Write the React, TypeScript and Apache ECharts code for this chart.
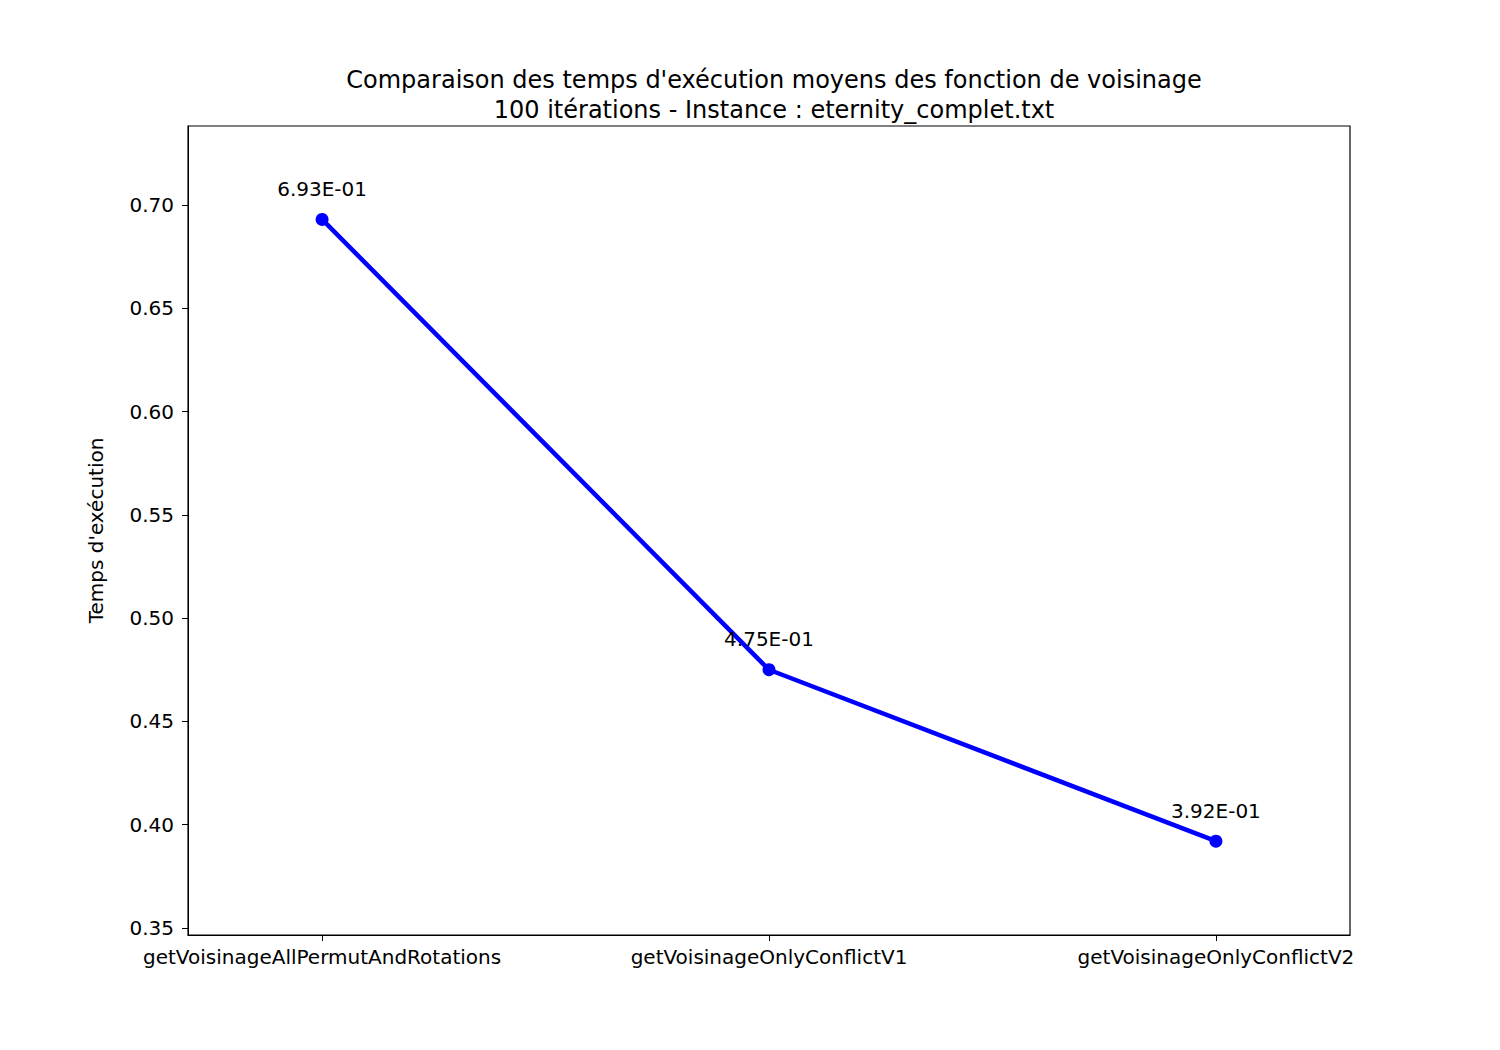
import React, { useEffect, useRef } from "react";
import * as echarts from "echarts";

const categories = ["getVoisinageAllPermutAndRotations", "getVoisinageOnlyConflictV1", "getVoisinageOnlyConflictV2"];
const values = [0.693, 0.475, 0.392];
const yTicks = [0.35, 0.4, 0.45, 0.5, 0.55, 0.6, 0.65, 0.7];
const titleLines = ["Comparaison des temps d'exécution moyens des fonction de voisinage", "100 itérations - Instance : eternity_complet.txt"];

export default function App() {
  const ref = useRef<HTMLDivElement>(null);
  useEffect(() => {
    const chart = echarts.init(ref.current!, undefined, { renderer: "svg" });
    const font = "DejaVu Sans";
    chart.setOption({
      animation: false,
      backgroundColor: "#fff",
      title: {
        text: titleLines.join("\n"),
        left: 769, top: 60, textAlign: "center",
        textStyle: { fontFamily: font, fontSize: 24, fontWeight: "normal", color: "#000", lineHeight: 30 },
      },
      grid: { left: 188, right: 150, top: 126, bottom: 115, show: true, borderColor: "#000", borderWidth: 1.2 },
      xAxis: {
        type: "value", min: -0.3, max: 2.3,
        splitLine: { show: false },
        axisLine: { onZero: false, lineStyle: { color: "#000" } },
        axisTick: { show: true, customValues: [0, 1, 2], length: 6, lineStyle: { color: "#000" } },
        axisLabel: { customValues: [0, 1, 2], alignMinLabel: "center", alignMaxLabel: "center", formatter: (v: number) => categories[Math.round(v)], color: "#000", fontFamily: font, fontSize: 20, margin: 12 },
      },
      yAxis: {
        type: "value", min: 0.3466, max: 0.7382,
        name: "Temps d'exécution", nameLocation: "middle", nameGap: 82,
        nameTextStyle: { fontFamily: font, fontSize: 20, color: "#000" },
        splitLine: { show: false },
        axisLine: { show: true, onZero: false, lineStyle: { color: "#000" } },
        axisTick: { show: true, customValues: yTicks, length: 6, lineStyle: { color: "#000" } },
        axisLabel: { customValues: yTicks, formatter: (v: number) => v.toFixed(2), color: "#000", fontFamily: font, fontSize: 20, margin: 14 },
      },
      series: [{
        type: "line",
        data: values.map((v, i) => [i, v]),
        symbol: "circle", symbolSize: 13,
        lineStyle: { color: "#0000ff", width: 4.5 },
        itemStyle: { color: "#0000ff" },
        label: {
          show: true, position: "top", distance: 14,
          formatter: (p: any) => {
            const v = p.value[1] as number;
            const e = Math.floor(Math.log10(v));
            const m = (v / Math.pow(10, e)).toFixed(2);
            const s = e < 0 ? "-" : "+";
            return `${m}E${s}${String(Math.abs(e)).padStart(2, "0")}`;
          },
          color: "#000", fontFamily: font, fontSize: 20,
        },
      }],
    });
    return () => chart.dispose();
  }, []);
  return <div ref={ref} style={{ position: "fixed", left: 0, top: 0, width: 1500, height: 1050 }} />;
}
